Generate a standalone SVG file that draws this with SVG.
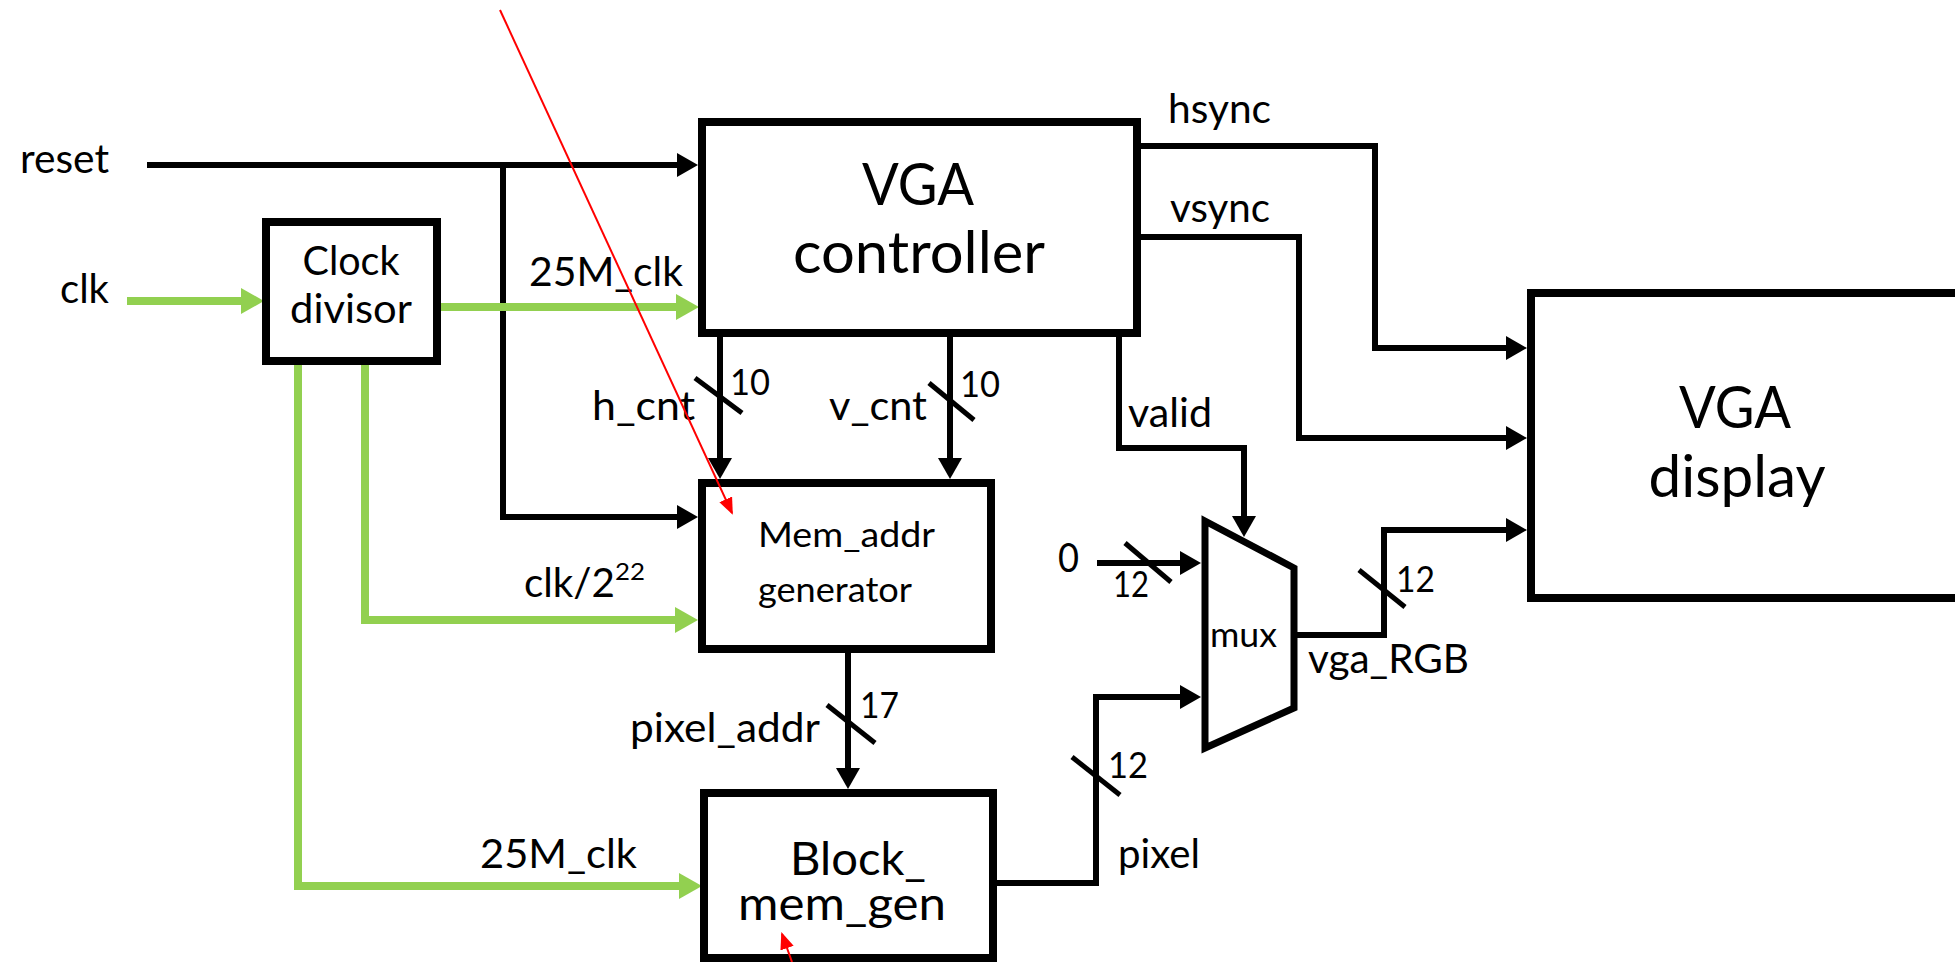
<svg xmlns="http://www.w3.org/2000/svg" width="1955" height="962" viewBox="0 0 1955 962">
<style>
text{font-family:"Lato","Open Sans","Liberation Sans",sans-serif;fill:#000}
.l{font-size:40px}
.n{font-size:36px}
.big{font-size:58px;text-anchor:middle}
.box{fill:#fff;stroke:#000;stroke-width:8}
.w{fill:none;stroke:#000;stroke-width:6;stroke-linejoin:miter}
.g{fill:none;stroke:#92D050;stroke-width:8;stroke-linejoin:miter}
.s{stroke:#000;stroke-width:5}
.r{fill:none;stroke:#FF0000;stroke-width:2}
</style>
<defs>
<marker id="ab" markerUnits="userSpaceOnUse" viewBox="0 0 21 24" markerWidth="21" markerHeight="24" refX="9" refY="12" orient="auto"><path d="M0,0 L21,12 L0,24 z" fill="#000"/></marker>
<marker id="ag" markerUnits="userSpaceOnUse" viewBox="0 0 23 26" markerWidth="23" markerHeight="26" refX="9" refY="13" orient="auto"><path d="M0,0 L23,13 L0,26 z" fill="#92D050"/></marker>
<marker id="ar" markerUnits="userSpaceOnUse" viewBox="0 0 17 14" markerWidth="17" markerHeight="14" refX="15" refY="7" orient="auto"><path d="M0,0 L17,7 L0,14 z" fill="#FF0000"/></marker>
</defs>

<g id="connectors">
<path class="w" d="M147,165 H686" marker-end="url(#ab)"/>
<path class="w" d="M503,165 V517 H686" marker-end="url(#ab)"/>
<path class="g" d="M127,301 H250" marker-end="url(#ag)"/>
<path class="g" d="M441,307 H685" marker-end="url(#ag)"/>
<path class="g" d="M365,361 V620 H684" marker-end="url(#ag)"/>
<path class="g" d="M298,361 V886 H688" marker-end="url(#ag)"/>
<path class="w" d="M720,333 V467" marker-end="url(#ab)"/>
<path class="w" d="M950,333 V467" marker-end="url(#ab)"/>
<path class="w" d="M848,649 V777" marker-end="url(#ab)"/>
<path class="w" d="M1119,333 V448 H1244 V525" marker-end="url(#ab)"/>
<path class="w" d="M1137,146 H1375 V348 H1515" marker-end="url(#ab)"/>
<path class="w" d="M1137,237 H1299 V438 H1515" marker-end="url(#ab)"/>
<path class="w" d="M1097,563 H1189" marker-end="url(#ab)"/>
<path class="w" d="M993,883 H1096 V697 H1189" marker-end="url(#ab)"/>
<path class="w" d="M1294,635 H1384 V530 H1515" marker-end="url(#ab)"/>
<line class="s" x1="695" y1="378" x2="742" y2="413"/>
<line class="s" x1="929" y1="383" x2="974" y2="420"/>
<line class="s" x1="827" y1="705" x2="875" y2="743"/>
<line class="s" x1="1125" y1="543" x2="1171" y2="582"/>
<line class="s" x1="1072" y1="757" x2="1120" y2="795"/>
<line class="s" x1="1359" y1="570" x2="1405" y2="607"/>
</g>

<g id="labels">
<text class="l" x="20" y="173" textLength="89" lengthAdjust="spacingAndGlyphs">reset</text>
<text class="l" x="60" y="303" textLength="49" lengthAdjust="spacingAndGlyphs">clk</text>
<text class="l" x="529" y="286" textLength="154" lengthAdjust="spacingAndGlyphs">25M_clk</text>
<text class="l" x="1168" y="123" textLength="103" lengthAdjust="spacingAndGlyphs">hsync</text>
<text class="l" x="1170" y="222" textLength="100" lengthAdjust="spacingAndGlyphs">vsync</text>
<text class="l" x="592" y="420" textLength="103" lengthAdjust="spacingAndGlyphs">h_cnt</text>
<text class="n" x="730" y="395" textLength="40" lengthAdjust="spacingAndGlyphs">10</text>
<text class="l" x="829" y="420" textLength="98" lengthAdjust="spacingAndGlyphs">v_cnt</text>
<text class="n" x="960" y="397" textLength="40" lengthAdjust="spacingAndGlyphs">10</text>
<text class="l" x="1128" y="427" textLength="84" lengthAdjust="spacingAndGlyphs">valid</text>
<text class="l" x="524" y="597" textLength="91" lengthAdjust="spacingAndGlyphs">clk/2</text>
<text x="615" y="580" style="font-size:24px" textLength="30" lengthAdjust="spacingAndGlyphs">22</text>
<text class="l" x="630" y="742" textLength="190" lengthAdjust="spacingAndGlyphs">pixel_addr</text>
<text class="n" x="860" y="718" textLength="39" lengthAdjust="spacingAndGlyphs">17</text>
<text class="l" x="480" y="868" textLength="157" lengthAdjust="spacingAndGlyphs">25M_clk</text>
<text class="l" x="1118" y="868" textLength="82" lengthAdjust="spacingAndGlyphs">pixel</text>
<text class="n" x="1108" y="778" textLength="40" lengthAdjust="spacingAndGlyphs">12</text>
<text class="l" x="1058" y="572" textLength="21" lengthAdjust="spacingAndGlyphs">0</text>
<text class="n" x="1113" y="597" textLength="36" lengthAdjust="spacingAndGlyphs">12</text>
<text class="n" x="1396" y="592" textLength="39" lengthAdjust="spacingAndGlyphs">12</text>
<text class="l" x="1308" y="673" textLength="161" lengthAdjust="spacingAndGlyphs">vga_RGB</text>
</g>

<g id="clock-divisor">
<rect class="box" x="266" y="222" width="171" height="139"/>
<text class="l" x="351" y="275" text-anchor="middle" textLength="97" lengthAdjust="spacingAndGlyphs">Clock</text>
<text class="l" x="351" y="323" text-anchor="middle" textLength="122" lengthAdjust="spacingAndGlyphs">divisor</text>
</g>

<g id="vga-controller">
<rect class="box" x="702" y="122" width="435" height="211"/>
<text class="big" x="918" y="205" textLength="112" lengthAdjust="spacingAndGlyphs">VGA</text>
<text class="big" x="919" y="273" textLength="252" lengthAdjust="spacingAndGlyphs">controller</text>
</g>

<g id="mem-addr-generator">
<rect class="box" x="702" y="483" width="289" height="166"/>
<text x="758" y="547" style="font-size:35px" textLength="177" lengthAdjust="spacingAndGlyphs">Mem_addr</text>
<text x="758" y="602" style="font-size:35px" textLength="154" lengthAdjust="spacingAndGlyphs">generator</text>
</g>

<g id="block-mem-gen">
<rect class="box" x="704" y="793" width="289" height="165"/>
<text x="790" y="875" style="font-size:46px" textLength="136" lengthAdjust="spacingAndGlyphs">Block_</text>
<text x="738" y="920" style="font-size:46px" textLength="208" lengthAdjust="spacingAndGlyphs">mem_gen</text>
</g>

<g id="mux">
<polygon points="1205,521 1294,568 1294,708 1205,748" fill="#fff" stroke="#000" stroke-width="7" stroke-linejoin="miter"/>
<text x="1210" y="647" style="font-size:35px" textLength="67" lengthAdjust="spacingAndGlyphs">mux</text>
</g>

<g id="vga-display">
<rect class="box" x="1531" y="293" width="500" height="305"/>
<text class="big" x="1735" y="428" textLength="112" lengthAdjust="spacingAndGlyphs">VGA</text>
<text class="big" x="1737" y="497" textLength="177" lengthAdjust="spacingAndGlyphs">display</text>
</g>

<g id="annotations">
<line class="r" x1="500" y1="10" x2="732" y2="513" marker-end="url(#ar)"/>
<line class="r" x1="792" y1="962" x2="782" y2="934" marker-end="url(#ar)"/>
</g>
</svg>
